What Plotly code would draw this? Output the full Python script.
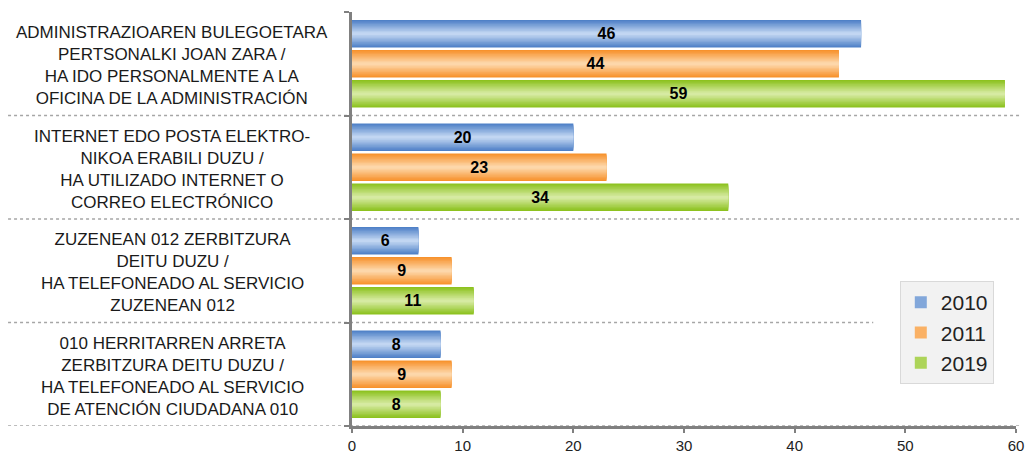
import plotly.graph_objects as go

categories = [
    "ADMINISTRAZIOAREN BULEGOETARA<br>PERTSONALKI JOAN ZARA /<br>HA IDO PERSONALMENTE A LA<br>OFICINA DE LA ADMINISTRACIÓN",
    "INTERNET EDO POSTA ELEKTRO-<br>NIKOA ERABILI DUZU /<br>HA UTILIZADO INTERNET O<br>CORREO ELECTRÓNICO",
    "ZUZENEAN 012 ZERBITZURA<br>DEITU DUZU /<br>HA TELEFONEADO AL SERVICIO<br>ZUZENEAN 012",
    "010 HERRITARREN ARRETA<br>ZERBITZURA DEITU DUZU /<br>HA TELEFONEADO AL SERVICIO<br>DE ATENCIÓN CIUDADANA 010",
]
years = ["2010", "2011", "2019"]
v2010 = [46, 20, 6, 8]
v2011 = [44, 23, 9, 9]
v2019 = [59, 34, 11, 8]
x_ticks = [0, 10, 20, 30, 40, 50, 60]

series = [v2010, v2011, v2019]
edge_colors = [(79, 129, 199), (247, 146, 45), (141, 194, 31)]
center_colors = [(194, 214, 242), (253, 215, 170), (214, 234, 162)]

FONT = "Liberation Sans, Arial, sans-serif"
ypos = list(range(len(categories)))
bounds = [y - 0.5 for y in ypos] + [ypos[-1] + 0.5]

fig = go.Figure()

bar_w = 0.267
pitch = 0.29
N = 10

def mix(a, b, t):
    return "rgb(%d,%d,%d)" % tuple(round(a[i] + (b[i] - a[i]) * t) for i in range(3))

for i, (name, vals) in enumerate(zip(years, series)):
    c = (i - 1) * pitch
    for k in range(N):
        w = bar_w * (1 - k / N)
        t = k / (N - 1)
        fig.add_trace(go.Bar(
            x=vals, y=ypos, orientation="h",
            width=w, offset=c - w / 2,
            marker=dict(color=mix(edge_colors[i], center_colors[i], t), line=dict(width=0)),
            name=name, legendgroup=name,
            showlegend=(k == 4),
            hoverinfo="skip",
        ))
    fig.add_trace(go.Bar(
        x=vals, y=ypos, orientation="h",
        width=bar_w, offset=c - bar_w / 2,
        marker=dict(color="rgba(0,0,0,0)", line=dict(width=0)),
        text=[str(v) for v in vals], textposition="inside",
        insidetextanchor="middle", constraintext="none",
        textfont=dict(family=FONT, size=16, color="#000000", weight="bold"),
        name=name, legendgroup=name, showlegend=False,
    ))

# category labels
for yi, lab in zip(ypos, categories):
    fig.add_annotation(
        x=-0.271, xref="paper", y=yi, yref="y", yshift=-2,
        text=lab, showarrow=False, xanchor="center", yanchor="middle",
        align="center", font=dict(family=FONT, size=17, color="#1a1a1a"),
    )

# dotted separators
for s in bounds[1:]:
    x1 = 0.785 if s == 2.5 else 1.006
    fig.add_shape(type="line", xref="paper", yref="y",
                  x0=-0.518, x1=x1, y0=s, y1=s,
                  line=dict(color="#a6a6a6", width=1.5, dash="dot"), layer="below")

fig.update_layout(
    width=1027, height=453,
    margin=dict(l=352, r=11, t=12, b=27, autoexpand=False),
    barmode="overlay",
    plot_bgcolor="white", paper_bgcolor="white",
    font=dict(family=FONT, color="#222222"),
    showlegend=True,
    legend=dict(
        x=0.825, xanchor="left", y=0.35, yanchor="top",
        bgcolor="#f2f2f2", bordercolor="#d9d9d9", borderwidth=1,
        font=dict(family=FONT, size=21, color="#222222"),
        tracegroupgap=13, traceorder="normal",
    ),
)
fig.update_xaxes(
    range=[0, 60], tickvals=x_ticks, showgrid=False, zeroline=False,
    showline=True, linecolor="#808080", linewidth=3, automargin=False,
    ticks="outside", ticklen=4, tickwidth=2, tickcolor="#808080",
    tickfont=dict(family=FONT, size=15, color="#222222"),
)
fig.update_yaxes(
    range=[3.5, -0.5], tickvals=bounds, showgrid=False, zeroline=False,
    showline=True, linecolor="#808080", linewidth=3, automargin=False,
    ticks="outside", ticklen=5, tickwidth=2, tickcolor="#808080",
    showticklabels=False,
)

fig.write_html(
    "out.html",
    config={"displayModeBar": False},
    post_script="document.body.style.margin='0';document.body.style.overflow='hidden';",
)
